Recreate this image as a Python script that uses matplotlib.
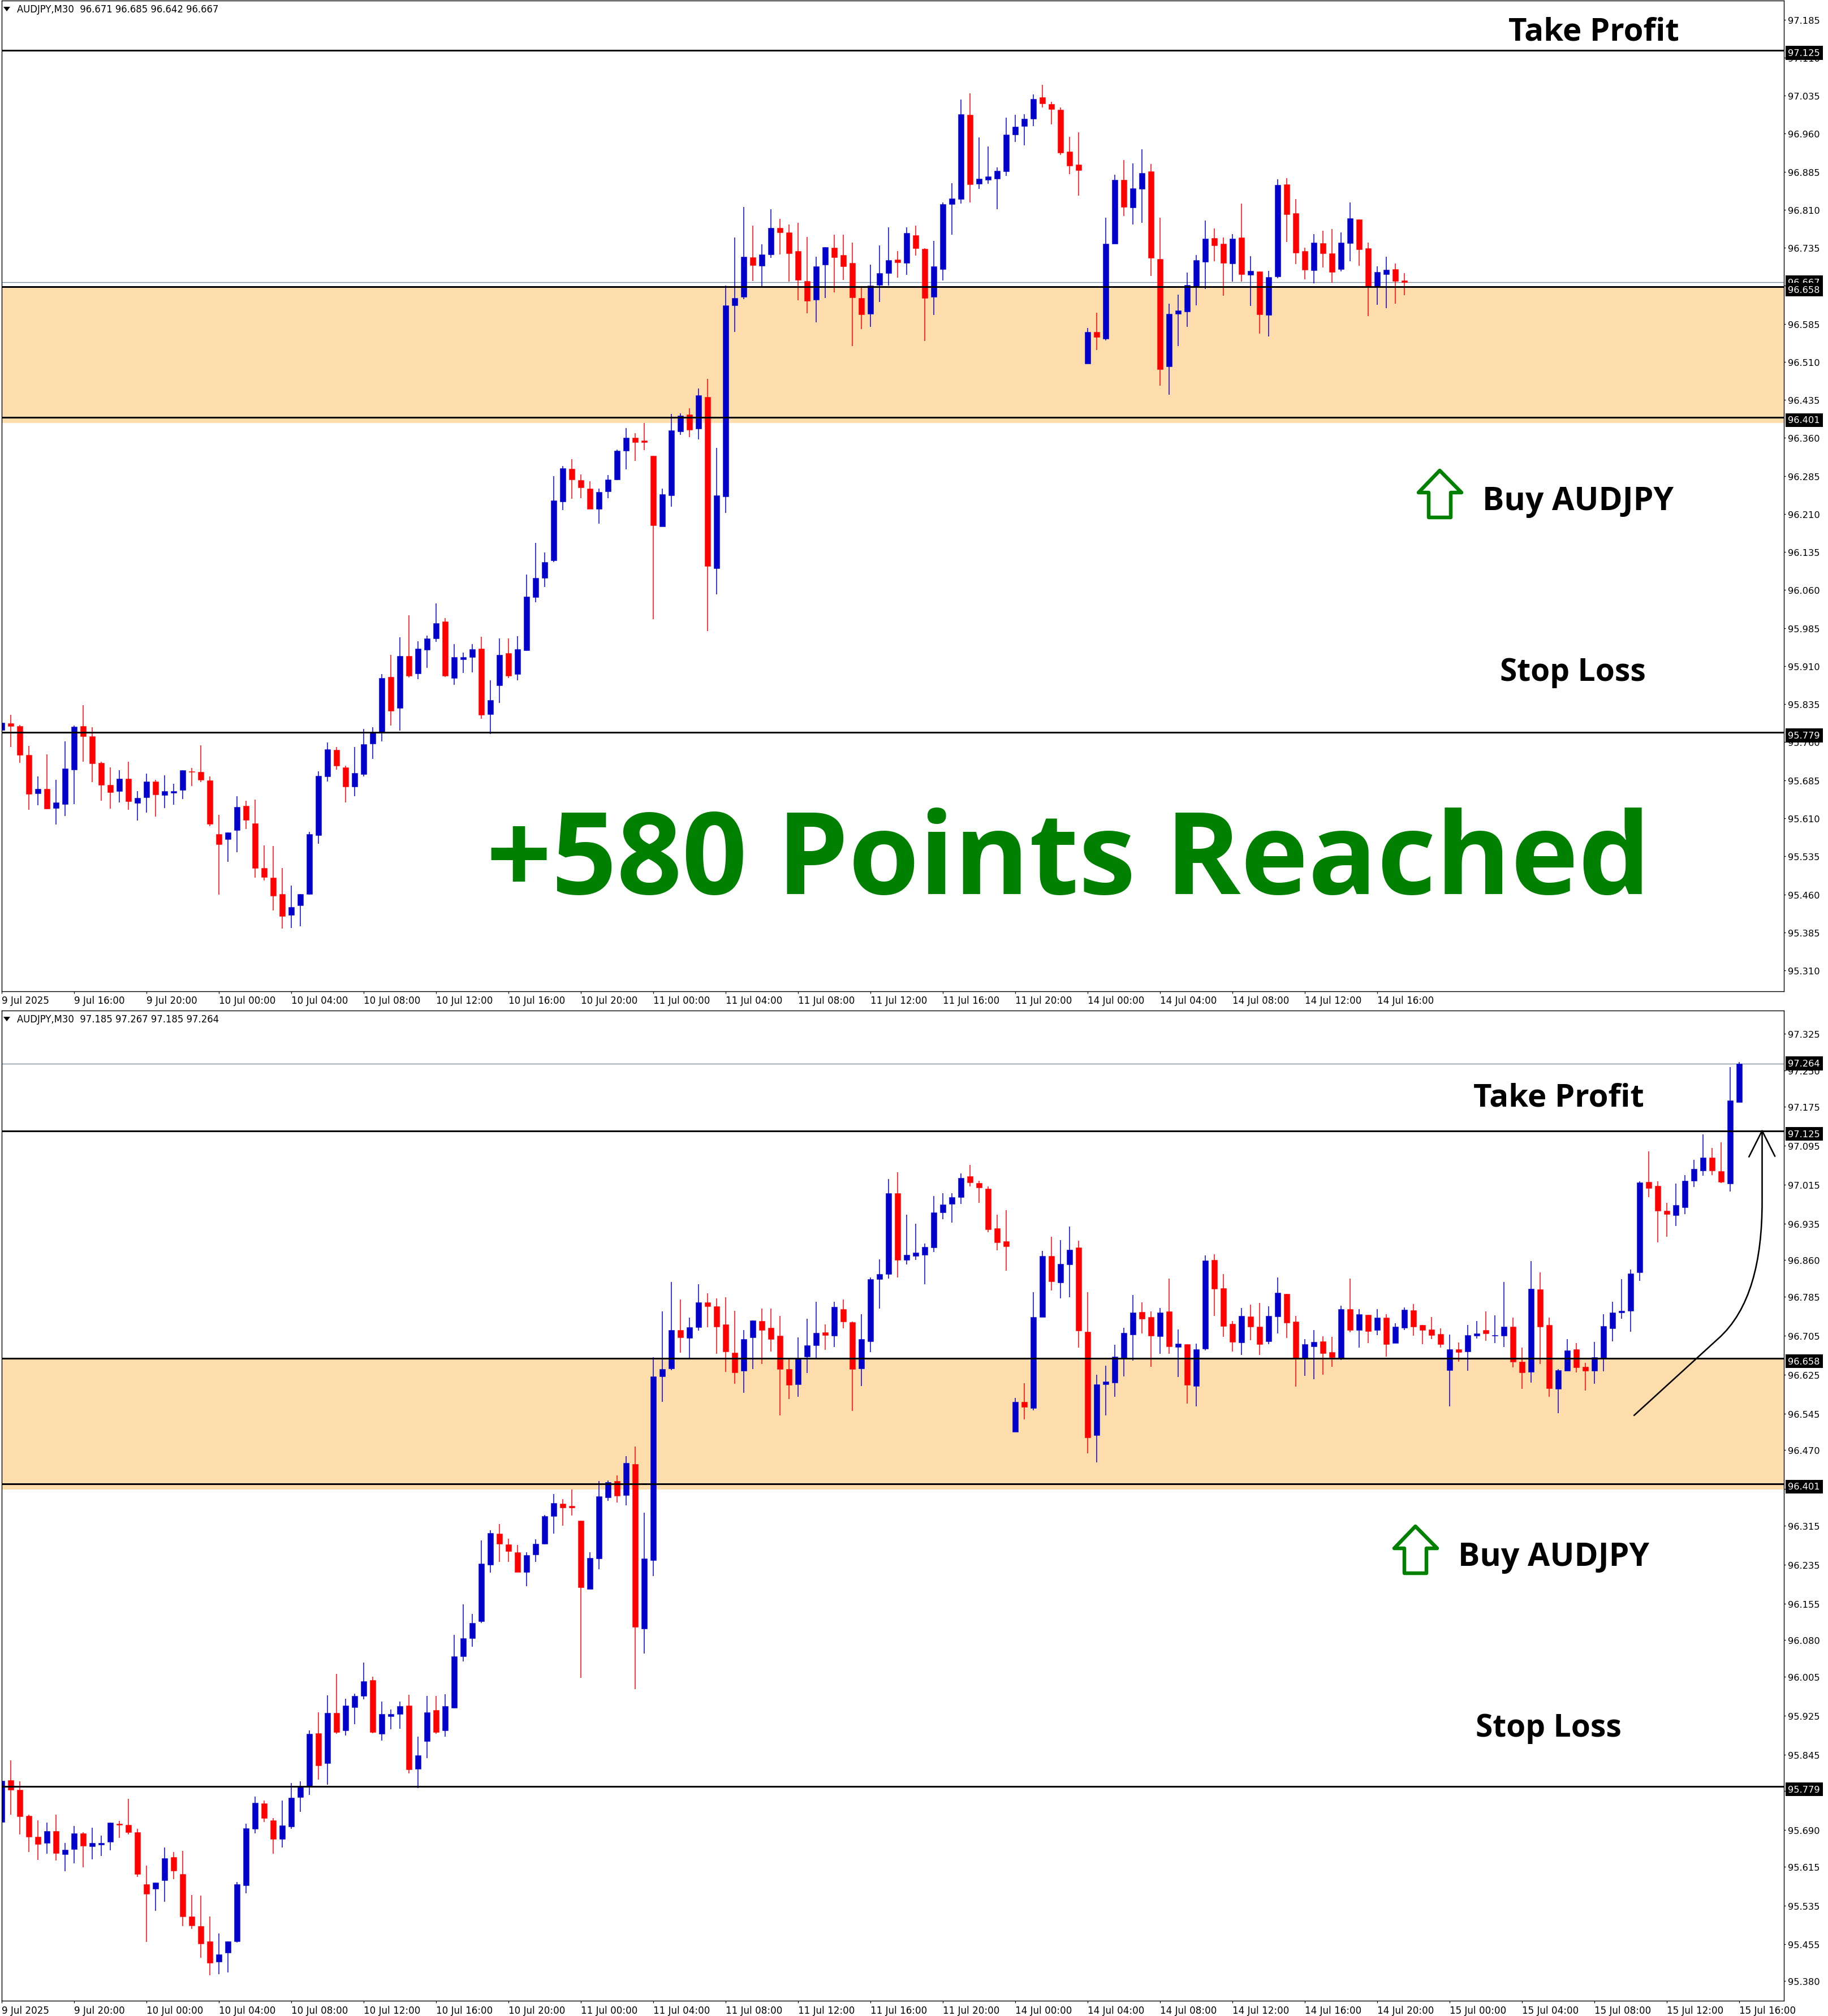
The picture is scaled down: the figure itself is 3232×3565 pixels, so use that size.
import matplotlib
matplotlib.use("Agg")
import matplotlib.pyplot as plt
from matplotlib import font_manager as fm
from matplotlib.patches import Polygon, PathPatch
from matplotlib.path import Path

# ---------- data: AUDJPY M30 candles ----------
opens = [95.784,95.797,95.792,95.735,95.659,95.668,95.630,95.638,95.706,95.792,
 95.772,95.719,95.676,95.663,95.688,95.640,95.651,95.683,95.656,95.660,
 95.666,95.703,95.701,95.685,95.579,95.569,95.587,95.634,95.600,95.512,
 95.493,95.461,95.419,95.438,95.461,95.576,95.692,95.745,95.710,95.672,
 95.697,95.757,95.781,95.889,95.827,95.930,95.895,95.942,95.965,95.998,
 95.887,95.923,95.928,95.945,95.815,95.872,95.936,95.894,95.941,96.046,
 96.084,96.119,96.235,96.299,96.277,96.260,96.220,96.255,96.278,96.335,
 96.360,96.355,96.325,96.185,96.247,96.373,96.406,96.378,96.441,96.103,
 96.244,96.621,96.638,96.716,96.700,96.722,96.774,96.765,96.728,96.670,
 96.633,96.702,96.735,96.721,96.705,96.636,96.605,96.662,96.685,96.712,
 96.705,96.760,96.733,96.638,96.693,96.821,96.831,96.997,96.861,96.869,
 96.871,96.886,96.958,96.975,96.989,97.032,97.018,97.007,96.925,96.899,
 96.507,96.569,96.556,96.743,96.869,96.814,96.851,96.886,96.713,96.501,
 96.605,96.609,96.658,96.707,96.754,96.743,96.704,96.755,96.682,96.688,
 96.602,96.678,96.860,96.803,96.729,96.691,96.744,96.724,96.693,96.744,
 96.791,96.734,96.659,96.683,96.693,96.671,96.659,96.760,96.716,96.748,
 96.716,96.742,96.690,96.721,96.757,96.727,96.718,96.708,96.634,96.677,
 96.673,96.705,96.716,96.705,96.705,96.723,96.652,96.631,96.800,96.727,
 96.596,96.633,96.677,96.641,96.633,96.658,96.720,96.753,96.756,96.835,
 97.021,97.013,96.962,96.952,96.969,97.023,97.044,97.071,97.043,97.017,
 97.185]
highs = [95.808,95.814,95.794,95.753,95.692,95.736,95.686,95.762,95.793,95.833,
 95.790,95.721,95.710,95.705,95.721,95.663,95.698,95.686,95.695,95.678,
 95.705,95.709,95.754,95.692,95.617,95.582,95.654,95.645,95.647,95.556,
 95.555,95.512,95.477,95.461,95.583,95.703,95.759,95.750,95.714,95.750,
 95.786,95.790,95.894,95.932,95.967,96.010,95.959,95.970,96.034,96.005,
 95.954,95.937,95.954,95.968,95.882,95.965,95.965,95.969,96.091,96.153,
 96.134,96.285,96.305,96.318,96.288,96.275,96.260,96.287,96.337,96.380,
 96.369,96.389,96.325,96.260,96.407,96.408,96.418,96.458,96.477,96.341,
 96.661,96.755,96.815,96.779,96.742,96.811,96.792,96.781,96.784,96.756,
 96.717,96.736,96.761,96.761,96.745,96.656,96.702,96.740,96.775,96.728,
 96.775,96.779,96.734,96.749,96.825,96.862,97.027,97.040,96.953,96.935,
 96.894,96.992,96.997,96.998,97.038,97.056,97.023,97.012,96.954,96.963,
 96.577,96.607,96.794,96.879,96.908,96.901,96.929,96.900,96.794,96.625,
 96.643,96.686,96.721,96.789,96.773,96.755,96.762,96.822,96.718,96.688,
 96.689,96.870,96.872,96.831,96.735,96.762,96.769,96.772,96.765,96.825,
 96.791,96.745,96.698,96.717,96.704,96.703,96.767,96.822,96.760,96.748,
 96.760,96.749,96.731,96.763,96.770,96.727,96.743,96.720,96.707,96.691,
 96.727,96.735,96.755,96.747,96.815,96.742,96.680,96.858,96.835,96.742,
 96.636,96.698,96.690,96.649,96.692,96.749,96.775,96.821,96.841,97.022,
 97.083,97.022,96.978,97.017,97.035,97.066,97.118,97.090,97.102,97.256,
 97.267]
lows = [95.738,95.750,95.719,95.627,95.636,95.628,95.598,95.614,95.638,95.721,
 95.681,95.645,95.629,95.641,95.627,95.605,95.621,95.613,95.630,95.637,
 95.648,95.674,95.681,95.594,95.460,95.524,95.543,95.589,95.493,95.487,
 95.428,95.392,95.394,95.397,95.459,95.560,95.683,95.706,95.641,95.654,
 95.692,95.727,95.762,95.793,95.783,95.888,95.884,95.907,95.958,95.889,
 95.873,95.897,95.898,95.806,95.776,95.838,95.887,95.882,95.940,96.036,
 96.066,96.115,96.218,96.240,96.241,96.220,96.191,96.241,96.277,96.298,
 96.315,96.336,96.003,96.185,96.225,96.366,96.362,96.357,95.979,96.052,
 96.212,96.569,96.634,96.670,96.659,96.715,96.722,96.668,96.631,96.606,
 96.588,96.636,96.647,96.672,96.541,96.575,96.579,96.628,96.660,96.676,
 96.682,96.720,96.551,96.602,96.671,96.761,96.822,96.825,96.851,96.861,
 96.811,96.877,96.944,96.937,96.975,97.012,96.978,96.918,96.880,96.838,
 96.507,96.533,96.552,96.743,96.798,96.781,96.784,96.680,96.463,96.445,
 96.541,96.579,96.621,96.654,96.709,96.641,96.668,96.668,96.620,96.566,
 96.560,96.675,96.746,96.703,96.673,96.665,96.696,96.666,96.688,96.709,
 96.700,96.600,96.623,96.616,96.625,96.641,96.655,96.712,96.680,96.690,
 96.706,96.662,96.690,96.716,96.705,96.688,96.698,96.680,96.560,96.652,
 96.633,96.699,96.695,96.690,96.682,96.640,96.596,96.608,96.647,96.580,
 96.546,96.633,96.629,96.592,96.606,96.632,96.693,96.740,96.713,96.817,
 96.990,96.897,96.908,96.930,96.955,97.010,97.034,97.035,97.019,97.001,
 97.185]
closes = [95.799,95.792,95.735,95.658,95.668,95.629,95.641,95.708,95.791,95.772,
 95.718,95.676,95.661,95.688,95.643,95.650,95.683,95.657,95.663,95.663,
 95.705,95.701,95.686,95.599,95.559,95.582,95.632,95.607,95.512,95.494,
 95.457,95.417,95.435,95.461,95.579,95.694,95.746,95.714,95.672,95.699,
 95.756,95.781,95.887,95.822,95.930,95.891,95.945,95.965,95.995,95.891,
 95.928,95.928,95.944,95.814,95.843,95.932,95.891,95.944,96.047,96.084,
 96.115,96.237,96.300,96.278,96.262,96.220,96.254,96.278,96.335,96.361,
 96.352,96.352,96.188,96.249,96.375,96.404,96.376,96.444,96.107,96.247,
 96.621,96.636,96.717,96.701,96.722,96.774,96.765,96.724,96.672,96.630,
 96.698,96.736,96.716,96.698,96.637,96.604,96.660,96.685,96.711,96.706,
 96.764,96.734,96.636,96.698,96.821,96.832,96.998,96.860,96.871,96.876,
 96.887,96.958,96.974,96.989,97.029,97.020,97.009,96.923,96.897,96.888,
 96.569,96.559,96.743,96.869,96.816,96.852,96.882,96.715,96.496,96.605,
 96.611,96.662,96.711,96.753,96.740,96.705,96.753,96.683,96.689,96.604,
 96.677,96.859,96.801,96.725,96.692,96.745,96.724,96.687,96.745,96.793,
 96.732,96.657,96.687,96.692,96.669,96.661,96.760,96.716,96.749,96.714,
 96.742,96.688,96.724,96.758,96.724,96.716,96.706,96.688,96.677,96.671,
 96.706,96.709,96.709,96.706,96.724,96.652,96.629,96.801,96.723,96.597,
 96.634,96.675,96.640,96.633,96.661,96.725,96.753,96.756,96.833,97.020,
 97.008,96.962,96.955,96.973,97.023,97.047,97.071,97.044,97.021,97.188,
 97.264]

top_count = 156                       # candles visible in the upper chart
top_last_ohlc = [96.671, 96.685, 96.642, 96.667]
bottom_first = 8                      # lower chart starts 8 bars later

take_profit = 97.125
zone_high = 96.658
zone_low = 96.401
stop_loss = 95.779
zone_pad = 0.012
top_bid = 96.667
bottom_bid = 97.264

top_yticks = [97.185,97.110,97.035,96.960,96.885,96.810,96.735,96.660,96.585,96.510,
              96.435,96.360,96.285,96.210,96.135,96.060,95.985,95.910,95.835,95.760,
              95.685,95.610,95.535,95.460,95.385,95.310]
bottom_yticks = [97.325,97.250,97.175,97.095,97.015,96.935,96.860,96.785,96.705,96.625,
                 96.545,96.470,96.390,96.315,96.235,96.155,96.080,96.005,95.925,95.845,
                 95.770,95.690,95.615,95.535,95.455,95.380]

hours = ["00:00","04:00","08:00","12:00","16:00","20:00"]
top_xlabels = ["9 Jul 2025","9 Jul 16:00","9 Jul 20:00"] + \
    [f"10 Jul {h}" for h in hours] + [f"11 Jul {h}" for h in hours] + \
    [f"14 Jul {h}" for h in hours[:5]]
bottom_xlabels = ["9 Jul 2025","9 Jul 20:00"] + \
    [f"10 Jul {h}" for h in hours] + [f"11 Jul {h}" for h in hours] + \
    [f"14 Jul {h}" for h in hours] + [f"15 Jul {h}" for h in hours[:5]]

# ---------- style ----------
W, H = 3232, 3566
BLUE, RED = "#0000CD", "#FF0000"
ZONE = "#FDDDAC"
GREEN = "#008000"
GREY = "#778899"
PX = 0.72
TICK_FONT = "DejaVu Sans"

def pick_bold():
    bold = {f.name for f in fm.fontManager.ttflist
            if (f.weight if isinstance(f.weight, int) else 700 if "bold" in str(f.weight) else 400) >= 700}
    for name in ("Open Sans", "Noto Sans", "Lato", "Roboto", "Liberation Sans", "DejaVu Sans"):
        if name in bold:
            return name
    return "DejaVu Sans"

LABEL_FONT = pick_bold()

fig = plt.figure(figsize=(W / 100, H / 100), dpi=100, facecolor="white")

def make_axes(left, right, top, bottom):
    return fig.add_axes([left / W, 1 - bottom / H, (right - left) / W, (bottom - top) / H])

def draw_chart(ax, o, h, l, c, xlim, ylim, yticks, xlabels, bid, bar_space=8):
    ax.set_facecolor("white")
    ax.set_xlim(*xlim)
    ax.set_ylim(*ylim)
    ax.axhspan(zone_low - zone_pad, zone_high, color=ZONE, lw=0, zorder=1)
    ax.axhline(bid, color=GREY, lw=1.3 * PX, zorder=1.5)
    xs = list(range(len(o)))
    cols = [BLUE if cc >= oo else RED for oo, cc in zip(o, c)]
    ax.vlines(xs, l, h, colors=cols, lw=1.5 * PX, zorder=2)
    ax.bar(xs, [abs(a - b) for a, b in zip(o, c)], bottom=[min(a, b) for a, b in zip(o, c)],
           width=10.4 / 16, color=cols, edgecolor=cols, lw=0.5 * PX, zorder=2.1)
    for lv in (take_profit, zone_high, zone_low, stop_loss):
        ax.axhline(lv, color="black", lw=3 * PX, zorder=3)
    for s in ax.spines.values():
        s.set_linewidth(1.4 * PX)
        s.set_color("black")
        s.set_zorder(4)
    ax.yaxis.tick_right()
    ax.set_yticks(yticks)
    ax.set_yticklabels([f"{v:.3f}" for v in yticks], fontfamily=TICK_FONT, fontsize=11.7)
    ax.tick_params(axis="y", length=3 * PX, width=1.2 * PX, pad=3.5 * PX)
    ticks = [k * bar_space for k in range(len(xlabels))]
    ax.set_xticks(ticks)
    ax.set_xticklabels(xlabels, fontfamily=TICK_FONT, fontsize=12.1, ha="left")
    ax.tick_params(axis="x", length=4 * PX, width=1.2 * PX, pad=4 * PX)
    for lv, off in [(bid, 0), (take_profit, 5), (zone_high, 5), (zone_low, 5), (stop_loss, 5)]:
        ax.annotate(f"{lv:.3f}", xy=(1, lv), xycoords=ax.get_yaxis_transform(),
                    xytext=(7.5 * PX, -off * PX), textcoords="offset points", va="center", ha="left",
                    color="white", fontfamily=TICK_FONT, fontsize=11.7, annotation_clip=False,
                    bbox=dict(fc="black", ec="none", pad=4.5 * PX), zorder=6)

# Upper chart: pixel x = 3.2 + 16*bar, pixel y = 35.7 + (97.185-p)*896.7
ax1 = make_axes(2.5, 3154, 2, 1753.5)
o1, h1, l1, c1 = opens[:top_count], highs[:top_count], lows[:top_count], closes[:top_count]
o1[-1], h1[-1], l1[-1], c1[-1] = top_last_ohlc
draw_chart(ax1, o1, h1, l1, c1,
           ((2.5 - 3.2) / 16, (3154 - 3.2) / 16),
           (97.185 - (1753.5 - 35.7) / 896.7, 97.185 + (35.7 - 2) / 896.7),
           top_yticks, top_xlabels, top_bid)

# Lower chart: pixel y = 1829 + (97.325-p)*861.2
ax2 = make_axes(2.5, 3154, 1788, 3539)
b = bottom_first
draw_chart(ax2, opens[b:], highs[b:], lows[b:], closes[b:],
           ((2.5 - 3.2) / 16, (3154 - 3.2) / 16),
           (97.325 - (3539 - 1829) / 861.2, 97.325 + (1829 - 1788) / 861.2),
           bottom_yticks, bottom_xlabels, bottom_bid)

# ---------- overlay in picture pixels for the hand-drawn annotations ----------
ov = fig.add_axes([0, 0, 1, 1], zorder=10)
ov.set_xlim(0, W)
ov.set_ylim(H, 0)
ov.axis("off")
ov.patch.set_alpha(0)

def header(y, txt):
    ov.add_patch(Polygon([(6, y - 4), (18, y - 4), (12, y + 4)], closed=True, fc="black", ec="none"))
    ov.text(30, y, txt, family=TICK_FONT, fontsize=11.9, va="center", ha="left", color="black")

header(17, "AUDJPY,M30  96.671 96.685 96.642 96.667")
header(1803, "AUDJPY,M30  97.185 97.267 97.185 97.264")

renderer = fig.canvas.get_renderer()

def label(x0, x1, yc, txt, size=38.0, color="black"):
    t = ov.text((x0 + x1) / 2, yc, txt, family=LABEL_FONT, weight="bold", fontsize=size,
                ha="center", va="center_baseline", color=color)
    w = t.get_window_extent(renderer).width
    t.set_fontsize(size * (x1 - x0) / w)      # fit the width seen in the reference

def up_arrow(dx, dy):
    pts = [(2545.5, 833), (2508, 872), (2526, 872), (2526, 916), (2565, 916), (2565, 872), (2584, 872)]
    ov.add_patch(Polygon([(x + dx, y + dy) for x, y in pts], closed=True, fc="none", ec=GREEN,
                         lw=6.5 * PX, joinstyle="round"))

label(2667, 2969, 50, "Take Profit")
label(2621, 2959, 880, "Buy AUDJPY")
label(2652, 2910, 1183, "Stop Loss")
up_arrow(0, 0)
label(860, 2918, 1504, "+580 Points Reached", size=142, color=GREEN)

label(2605, 2907, 1936, "Take Profit")
label(2578, 2916, 2747, "Buy AUDJPY")
label(2609, 2867, 3050, "Stop Loss")
up_arrow(-43, 1867)

curve = Path([(2888.4, 2504.6), (3037, 2369), (3095, 2318), (3115.5, 2230), (3115.5, 2126), (3115.5, 2000.5)],
             [Path.MOVETO, Path.LINETO, Path.CURVE4, Path.CURVE4, Path.CURVE4, Path.LINETO])
ov.add_patch(PathPatch(curve, fc="none", ec="black", lw=2.6 * PX))
ov.plot([3092.4, 3115.5, 3138], [2046.4, 2000.5, 2045.4], color="black", lw=2.6 * PX)

fig.savefig("out.png", dpi=100, facecolor="white")
